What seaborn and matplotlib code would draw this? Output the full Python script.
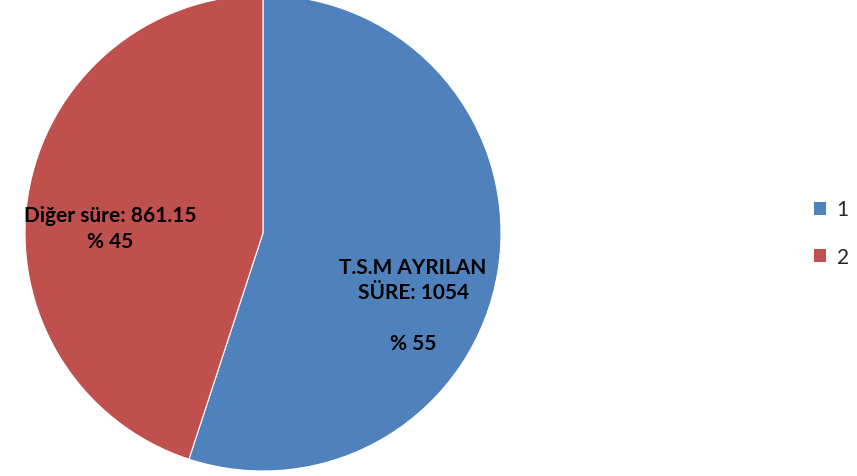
import matplotlib
matplotlib.use("Agg")
import matplotlib.pyplot as plt
import seaborn as sns
from matplotlib.patches import Patch

categories = ["1", "2"]
values = [1054, 861.15]
percents = [55, 45]
labels = ["T.S.M AYRILAN\nSÜRE: 1054\n\n% 55", "Diğer süre: 861.15\n% 45"]
colors = ["#4F81BD", "#C0504D"]

sns.set_theme(style="white")
plt.rcParams['font.family'] = ['Lato', 'DejaVu Sans']

W, H = 857, 477
fig = plt.figure(figsize=(W / 100, H / 100), dpi=100)
cx, cy, r = 263, 234, 238
ax = fig.add_axes([(cx - r) / W, (H - cy - r) / H, 2 * r / W, 2 * r / H])
wedges, _ = ax.pie(values, colors=colors, startangle=90, counterclock=False,
                   wedgeprops=dict(edgecolor="white", linewidth=0.8))
ax.set_aspect("auto")
ax.set_xlim(-1, 1)
ax.set_ylim(-1, 1)

ax.text((413 - cx) / r, -(306 - cy) / r, labels[0], ha="center", va="center",
        fontsize=15, fontweight="bold", color="black", linespacing=1.35)
ax.text((110 - cx) / r, -(229 - cy) / r, labels[1], ha="center", va="center",
        fontsize=15, fontweight="bold", color="black", linespacing=1.35)

# clipped title remnant at the top
fig.text(5 / W, 1 + 3 / H, "T.S.M: 1915.15", ha="left", va="baseline",
         fontsize=13, color="#808080")

handles = [Patch(facecolor=c, edgecolor="none") for c in colors]
fig.legend(handles, categories, loc="center left", bbox_to_anchor=(795 / W, 1 - 234 / H),
           frameon=False, fontsize=15, handlelength=0.6, handleheight=0.6,
           handletextpad=0.5, labelspacing=1.3)

fig.savefig("out.png", dpi=100)
